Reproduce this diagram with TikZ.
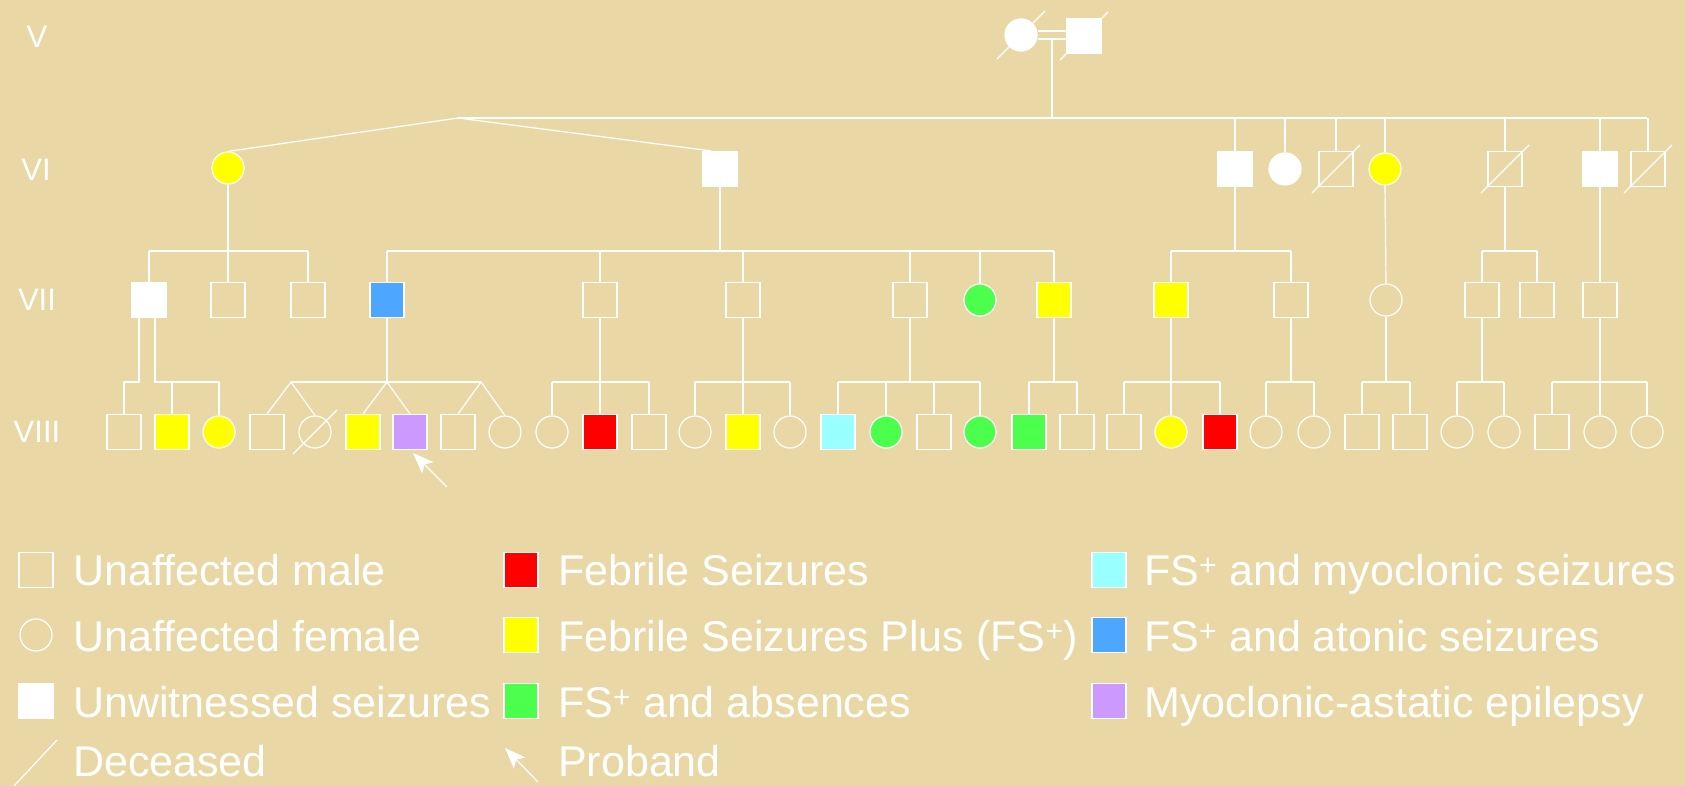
\documentclass[tikz,border=0pt]{standalone}
\usepackage{fontspec}
\setmainfont{Liberation Sans}
\usetikzlibrary{arrows.meta}
\definecolor{bg}{RGB}{233,216,166}
\definecolor{fsred}{RGB}{255,0,0}
\definecolor{fsyellow}{RGB}{255,255,0}
\definecolor{fsgreen}{RGB}{77,255,77}
\definecolor{fscyan}{RGB}{153,255,255}
\definecolor{fsblue}{RGB}{77,166,255}
\definecolor{fspurple}{RGB}{204,153,255}
\newcommand{\dslash}[2]{\draw[line] ([shift={(-#2,#2)}]#1.center) -- ([shift={(#2,-#2)}]#1.center);}
\newcommand{\famline}[5]{%
  \draw[line] (#1.south) -- (#1.south |- #5);
  \draw[line] (#2.north |- #5) -- (#3.north |- #5);
  \foreach \c in {#4} {\draw[line] (\c.north) -- (\c.north |- #5);}
}
\begin{document}
\begin{tikzpicture}[x=1pt,y=-1pt,
  line/.style={draw=white, line width=1.2pt},
  male/.style={rectangle, draw=white, line width=1.2pt, minimum width=34pt, minimum height=35pt, inner sep=0pt},
  female/.style={circle, draw=white, line width=1.2pt, minimum size=32pt, inner sep=0pt},
  unw/.style={fill=white},
  fs/.style={fill=fsred},
  fsp/.style={fill=fsyellow},
  absn/.style={fill=fsgreen},
  myo/.style={fill=fscyan},
  ato/.style={fill=fsblue},
  mae/.style={fill=fspurple},
  gen/.style={text=white, font=\fontsize{31}{31}\selectfont, inner sep=0pt},
  legtext/.style={text=white, font=\fontsize{43}{43}\selectfont, anchor=base west, inner sep=0pt},
  proband/.style={line, -{Stealth[length=21pt,width=16pt,inset=5pt]}}
]
\fill[bg] (0,0) rectangle (1685,786);
\useasboundingbox (0,0) rectangle (1685,786);

% generation labels
\node[gen] (gV) at (37,37) {V};
\node[gen] (gVI) at (36,170) {VI};
\node[gen] (gVII) at (37,300) {VII};
\node[gen] (gVIII) at (37,432) {VIII};

% generation V
\node[female, unw] (v1) at (1021,35) {};
\node[male, unw] (v2) at (1084,36) {};
\dslash{v1}{24}
\dslash{v2}{24}
\draw[line] ([yshift=4pt]v1.east) -- ([yshift=5pt]v2.west);
\draw[line] ([yshift=-4pt]v1.east) -- ([yshift=-3pt]v2.west);
\coordinate (mV) at (1052,39);
\coordinate (bVI) at (1052,118);
\coordinate (pk) at (458,118);
\coordinate (bVIr) at (1647,118);
\draw[line] (mV) -- (bVI);
\draw[line] (pk) -- (bVIr);

% generation VI
\node[female, fsp] (n6a) at (228,168) {};
\node[male, unw] (n6b) at (720,169) {};
\node[male, unw] (n6c) at (1235,169) {};
\node[female, unw] (n6d) at (1285,169) {};
\node[male] (n6e) at (1336,169) {};
\node[female, fsp] (n6f) at (1385,169) {};
\node[male] (n6g) at (1505,169) {};
\node[male, unw] (n6h) at (1600,169) {};
\node[male] (n6i) at (1648,169) {};
\dslash{n6e}{24}
\dslash{n6g}{24}
\dslash{n6i}{24}
\draw[line] (n6a.north) -- (pk) -- ([xshift=-9pt]n6b.north);
\foreach \c in {n6c,n6d,n6e,n6f,n6g,n6h,n6i} {\draw[line] (\c.north) -- (\c.north |- pk);}

% generation VII
\coordinate (r7) at (0,251);
\coordinate (r8) at (0,382);
\node[male, unw] (n7a) at (149,300) {};
\node[male] (n7b) at (228,300) {};
\node[male] (n7c) at (308,300) {};
\node[male, ato] (n7d) at (387,300) {};
\node[male] (n7e) at (600,300) {};
\node[male] (n7f) at (743,300) {};
\node[male] (n7g) at (910,300) {};
\node[female, absn] (n7h) at (980,300) {};
\node[male, fsp] (n7i) at (1054,300) {};
\node[male, fsp] (n7j) at (1171,300) {};
\node[male] (n7k) at (1291,300) {};
\node[female] (n7l) at (1386,300) {};
\node[male] (n7m) at (1482,300) {};
\node[male] (n7n) at (1537,300) {};
\node[male] (n7o) at (1600,300) {};
\famline{n6a}{n7a}{n7c}{n7a,n7b,n7c}{r7}
\famline{n6b}{n7d}{n7i}{n7d,n7e,n7f,n7g,n7h,n7i}{r7}
\famline{n6c}{n7j}{n7k}{n7j,n7k}{r7}
\famline{n6g}{n7m}{n7n}{n7m,n7n}{r7}
\draw[line] (n6f.south) -- (n7l.north);
\draw[line] (n6h.south) -- (n7o.north);

% generation VIII
\node[male] (e1) at (124,432) {};
\node[male, fsp] (e2) at (172,432) {};
\node[female, fsp] (e3) at (219,432) {};
\node[male] (e4) at (267,432) {};
\node[female] (e5) at (315,432) {};
\node[male, fsp] (e6) at (363,432) {};
\node[male, mae] (e7) at (410,432) {};
\node[male] (e8) at (458,432) {};
\node[female] (e9) at (505,432) {};
\node[female] (e10) at (552,432) {};
\node[male, fs] (e11) at (600,432) {};
\node[male] (e12) at (649,432) {};
\node[female] (e13) at (695,432) {};
\node[male, fsp] (e14) at (743,432) {};
\node[female] (e15) at (790,432) {};
\node[male, myo] (e16) at (838,432) {};
\node[female, absn] (e17) at (886,432) {};
\node[male] (e18) at (934,432) {};
\node[female, absn] (e19) at (980,432) {};
\node[male, absn] (e20) at (1029,432) {};
\node[male] (e21) at (1077,432) {};
\node[male] (e22) at (1124,432) {};
\node[female, fsp] (e23) at (1171,432) {};
\node[male, fs] (e24) at (1220,432) {};
\node[female] (e25) at (1266,432) {};
\node[female] (e26) at (1314,432) {};
\node[male] (e27) at (1362,432) {};
\node[male] (e28) at (1410,432) {};
\node[female] (e29) at (1457,432) {};
\node[female] (e30) at (1504,432) {};
\node[male] (e31) at (1552,432) {};
\node[female] (e32) at (1600,432) {};
\node[female] (e33) at (1647,432) {};
\dslash{e5}{22}

% family of n7a (two partners)
\draw[line] ([xshift=-10pt]n7a.south) |- (e1.north |- r8) -- (e1.north);
\draw[line] ([xshift=6pt]n7a.south) -- ([xshift=6pt]n7a.south |- r8) -- (e3.north |- r8) -- (e3.north);
\draw[line] (e2.north) -- (e2.north |- r8);
% family of n7d (three twin pairs)
\coordinate (t1) at (291,382);
\coordinate (t3) at (481,382);
\draw[line] (n7d.south) -- (n7d.south |- r8) coordinate (t2);
\draw[line] (t1) -- (t3);
\draw[line] (e4.north) -- (t1) -- (e5.north);
\draw[line] (e6.north) -- (t2) -- (e7.north);
\draw[line] (e8.north) -- (t3) -- (e9.north);
\famline{n7e}{e10}{e12}{e10,e11,e12}{r8}
\famline{n7f}{e13}{e15}{e13,e14,e15}{r8}
\famline{n7g}{e16}{e19}{e16,e17,e18,e19}{r8}
\famline{n7i}{e20}{e21}{e20,e21}{r8}
\famline{n7j}{e22}{e24}{e22,e23,e24}{r8}
\famline{n7k}{e25}{e26}{e25,e26}{r8}
\famline{n7l}{e27}{e28}{e27,e28}{r8}
\famline{n7m}{e29}{e30}{e29,e30}{r8}
\famline{n7o}{e31}{e33}{e31,e32,e33}{r8}
% proband arrow
\coordinate (pbt) at (447,487);
\draw[proband] (pbt) -- ([shift={(3,21)}]e7.center);

% legend
\node[male] (l1) at (36,570) {};
\node[legtext] (lt1) at (73,585) {Unaffected male};
\node[female] (l2) at (36,635) {};
\node[legtext] (lt2) at (73,651) {Unaffected female};
\node[male, unw] (l3) at (36,701) {};
\node[legtext] (lt3) at (73,717) {Unwitnessed seizures};
\coordinate (l4a) at (14,786);
\coordinate (l4b) at (57,740);
\draw[line] (l4a) -- (l4b);
\node[legtext] (lt4) at (73,776) {Deceased};

\node[male, fs] (l5) at (521,570) {};
\node[legtext] (lt5) at (558,585) {Febrile Seizures};
\node[male, fsp] (l6) at (521,635) {};
\node[legtext] (lt6) at (558,651) {Febrile Seizures Plus (FS\textsuperscript{+})};
\node[male, absn] (l7) at (521,701) {};
\node[legtext] (lt7) at (558,717) {FS\textsuperscript{+} and absences};
\coordinate (l8a) at (538,782);
\coordinate (l8b) at (505,748);
\draw[proband] (l8a) -- (l8b);
\node[legtext] (lt8) at (558,776) {Proband};

\node[male, myo] (l9) at (1109,570) {};
\node[legtext] (lt9) at (1144,585) {FS\textsuperscript{+} and myoclonic seizures};
\node[male, ato] (l10) at (1109,635) {};
\node[legtext] (lt10) at (1144,651) {FS\textsuperscript{+} and atonic seizures};
\node[male, mae] (l11) at (1109,701) {};
\node[legtext] (lt11) at (1144,717) {Myoclonic-astatic epilepsy};
\end{tikzpicture}
\end{document}
